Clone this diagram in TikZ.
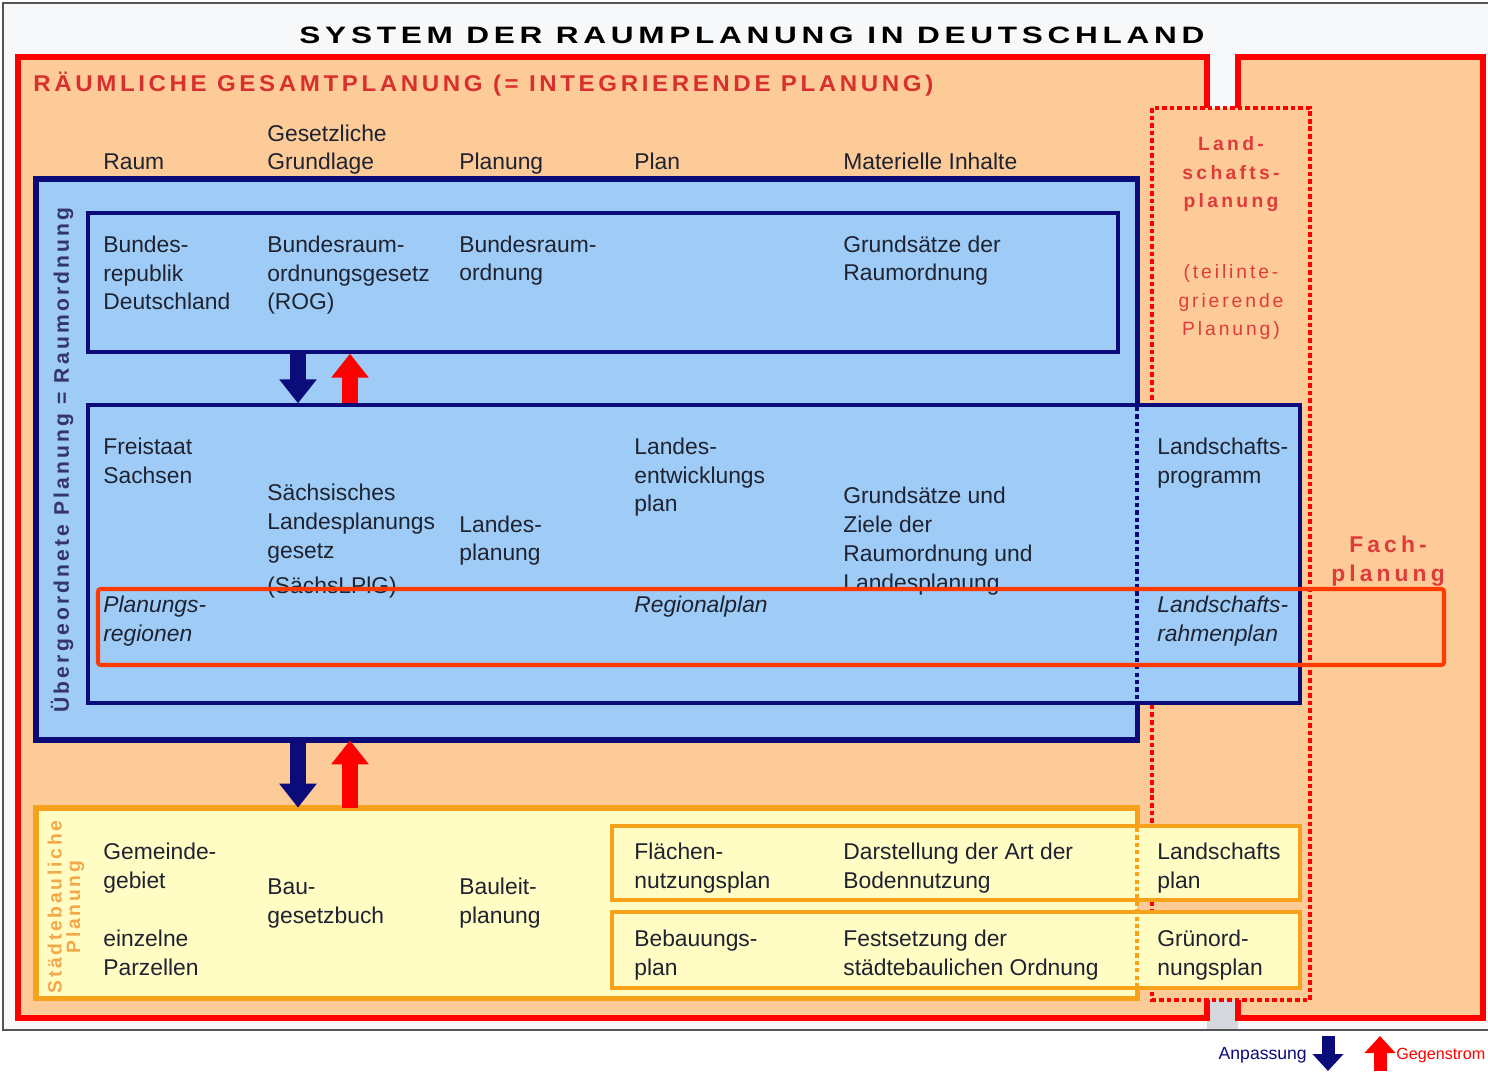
\documentclass[tikz,border=0pt]{standalone}
\usepackage{fontspec}
\setmainfont{Liberation Sans}
\usetikzlibrary{arrows.meta,fit}
\definecolor{peach}{HTML}{FDCB98}
\definecolor{redf}{HTML}{FF0000}
\definecolor{navy}{HTML}{0B0B7A}
\definecolor{lblue}{HTML}{9ECCF7}
\definecolor{lyellow}{HTML}{FFFCC4}
\definecolor{orng}{HTML}{F7A21B}
\definecolor{hl}{HTML}{FF3A00}
\definecolor{txt}{HTML}{1F2230}
\definecolor{redtxt}{HTML}{D8302F}
\definecolor{redtxtb}{HTML}{DE3C3C}
\definecolor{navytxt}{HTML}{35356A}
\definecolor{orngtxt}{HTML}{F2A94A}
\definecolor{bg}{HTML}{F7F8F9}
\definecolor{gapgray}{HTML}{D5D8DC}
\definecolor{framegray}{HTML}{555555}
\tikzset{
  lbl/.style={anchor=base west, inner sep=0, align=left, text=txt, font=\fontsize{13}{16.5}\selectfont},
  ilbl/.style={lbl, font=\fontsize{13}{16.5}\selectfont\itshape},
  redframe/.style={draw=redf, line width=3.4pt, line join=miter},
  reddot/.style={draw=redf, line width=2.7pt, dash pattern=on 2.6pt off 1.7pt},
  navydot/.style={draw=navy, line width=2.8pt, dash pattern=on 2.4pt off 1.8pt},
  orngdot/.style={draw=orng, line width=2.6pt, dash pattern=on 2.4pt off 1.8pt},
  bigblue/.style={inner sep=0, fill=lblue},
  innerblue/.style={inner sep=0, fill=lblue, draw=navy, line width=1.9pt},
  inneryellow/.style={inner sep=0, fill=lyellow, draw=orng, line width=1.9pt},
  downarrow/.style={draw=navy, line width=0.32cm, -{Triangle[width=0.72cm,length=0.48cm]}},
  uparrow/.style={draw=redf, line width=0.32cm, -{Triangle[width=0.72cm,length=0.48cm]}},
  legdown/.style={draw=navy, line width=0.26cm, -{Triangle[width=0.6cm,length=0.34cm]}},
  legup/.style={draw=redf, line width=0.26cm, -{Triangle[width=0.6cm,length=0.34cm]}},
}
\begin{document}
\begin{tikzpicture}[x=0.02cm,y=-0.02cm]
\useasboundingbox (0,0) rectangle (1488,1074);
\clip (0,0) rectangle (1488,1074);
\fill[white] (0,0) rectangle (1488,1074);
\draw[framegray, line width=1.2pt, fill=bg] (3,3) rectangle (1520,1030);
% peach area
\fill[peach] (18,57) rectangle (1483,1018);
\fill[bg] (1207,30) rectangle (1238,108);
\fill[gapgray] (1207,1000) rectangle (1238,1029);
% red dotted Landschaftsplanung
\draw[reddot] (1152,108) rectangle (1310,1000);
% red frames
\draw[redframe] (1207,108) -- (1207,57) -- (18,57) -- (18,1018) -- (1207,1018) -- (1207,1000);
\draw[redframe] (1238,108) -- (1238,57) -- (1483,57) -- (1483,1018) -- (1238,1018) -- (1238,1000);
% big navy box
\node[bigblue, fit={(36,179)(1137,740)}] (ueber) {};
\draw[navy, line width=2.85pt, line join=miter] (1137,405) -- (1137,179) -- (36,179) -- (36,740) -- (1137,740) -- (1137,703);
\node[innerblue, fit={(88,213)(1118,352)}] (bund) {};
\node[innerblue, fit={(88,405)(1300,703)}] (sachsen) {};
\draw[navydot] (1137,407) -- (1137,701);
% yellow box
\node[inner sep=0, fill=lyellow, fit={(36,808)(1137,998)}] (stadt) {};
\draw[orng, line width=2.85pt, line join=miter] (1137,828) -- (1137,808) -- (36,808) -- (36,998) -- (1137,998) -- (1137,988);
\node[inneryellow, fit={(612,826)(1300,900)}] (fnp) {};
\node[inneryellow, fit={(612,912)(1300,988)}] (bpl) {};
\draw[orngdot] (1137,828) -- (1137,988);
% arrows
\coordinate (ax) at (298,0);
\coordinate (bx) at (350,0);
\draw[downarrow] (bund.south -| ax) -- (sachsen.north -| ax);
\draw[uparrow] (sachsen.north -| bx) -- (bund.south -| bx);
\draw[downarrow] (ueber.south -| ax) -- (stadt.north -| ax);
\draw[uparrow] (stadt.north -| bx) -- (ueber.south -| bx);
% titles
\node[anchor=base, inner sep=0, xscale=1.33, text=black, font=\fontsize{13.5}{16}\selectfont\bfseries\addfontfeatures{LetterSpace=15}] (title) at (752,44) {SYSTEM DER RAUMPLANUNG IN DEUTSCHLAND};
\node[anchor=base west, inner sep=0, xscale=1.055, text=redtxt, font=\fontsize{13}{16}\selectfont\bfseries\addfontfeatures{LetterSpace=15}] (sub) at (33,92) {RÄUMLICHE GESAMTPLANUNG (= INTEGRIERENDE PLANUNG)};
% vertical labels
\node[rotate=90, inner sep=0, text=navytxt, font=\fontsize{12}{14}\selectfont\bfseries\addfontfeatures{LetterSpace=15}] (vueber) at (62,460) {Übergeordnete Planung = Raumordnung};
\node[rotate=90, inner sep=0, align=center, text=orngtxt, font=\fontsize{11}{10.5}\selectfont\bfseries\addfontfeatures{LetterSpace=14}] (vstadt) at (66,907) {Städtebauliche\\Planung};
% headers (base anchor = baseline of the last line)
\node[lbl] (hraum) at (103,170) {Raum};
\node[lbl] (hgrund) at (267,170) {Gesetzliche\\Grundlage};
\node[lbl] (hplanung) at (459,170) {Planung};
\node[lbl] (hplan) at (634,170) {Plan};
\node[lbl] (hinh) at (843,170) {Materielle Inhalte};
% Bund
\node[lbl] (t1) at (103,310) {Bundes-\\republik\\Deutschland};
\node[lbl] (t2) at (267,310) {Bundesraum-\\ordnungsgesetz\\(ROG)};
\node[lbl] (t3) at (459,281) {Bundesraum-\\ordnung};
\node[lbl] (t4) at (843,281) {Grundsätze der\\Raumordnung};
% Sachsen
\node[lbl] (s1) at (103,483) {Freistaat\\Sachsen};
\node[lbl] (s2) at (267,593) {Sächsisches\\Landesplanungs\\gesetz\\[3pt](SächsLPlG)};
\node[lbl] (s3) at (459,561) {Landes-\\planung};
\node[lbl] (s4) at (634,512) {Landes-\\entwicklungs\\plan};
\node[lbl] (s5) at (843,590) {Grundsätze und\\Ziele der\\Raumordnung und\\Landesplanung};
\node[lbl] (s6) at (1157,483) {Landschafts-\\programm};
\node[ilbl] (r1) at (103,641) {Planungs-\\regionen};
\node[ilbl] (r2) at (634,612) {Regionalplan};
\node[ilbl] (r3) at (1157,641) {Landschafts-\\rahmenplan};
% Stadt
\node[lbl] (y1) at (103,888) {Gemeinde-\\gebiet};
\node[lbl] (y2) at (103,975) {einzelne\\Parzellen};
\node[lbl] (y3) at (267,923) {Bau-\\gesetzbuch};
\node[lbl] (y4) at (459,923) {Bauleit-\\planung};
\node[lbl] (y5) at (634,888) {Flächen-\\nutzungsplan};
\node[lbl] (y6) at (843,888) {Darstellung der Art der\\Bodennutzung};
\node[lbl] (y7) at (1157,888) {Landschafts\\plan};
\node[lbl] (y8) at (634,975) {Bebauungs-\\plan};
\node[lbl] (y9) at (843,975) {Festsetzung der\\städtebaulichen Ordnung};
\node[lbl] (y10) at (1157,975) {Grünord-\\nungsplan};
% red labels
\node[anchor=base, inner sep=0, align=center, text=redtxtb, font=\fontsize{11}{16.5}\selectfont\bfseries\addfontfeatures{LetterSpace=17}] (lp1) at (1231,208) {Land-\\schafts-\\planung};
\node[anchor=base, inner sep=0, align=center, text=redtxtb, font=\fontsize{11}{16.5}\selectfont\addfontfeatures{LetterSpace=15}] (lp2) at (1231,336) {(teilinte-\\grierende\\Planung)};
\node[anchor=base, inner sep=0, align=center, text=redtxtb, font=\fontsize{13}{16.5}\selectfont\bfseries\addfontfeatures{LetterSpace=18}] (fach) at (1388,581) {Fach-\\planung};
% highlight
\draw[hl, line width=2.3pt, rounded corners=1.5pt] (98,589) rectangle (1444,665);
% legend
\node[anchor=base east, inner sep=0, text=navy, font=\fontsize{10}{12}\selectfont] (lanp) at (1307,1059) {Anpassung};
\node[anchor=base west, inner sep=0, text=redf, font=\fontsize{9.2}{11}\selectfont] (lgeg) at (1396,1059) {Gegenstrom};
\coordinate (la1) at (1328,1036);
\coordinate (la2) at (1328,1071);
\coordinate (lb1) at (1380,1071);
\coordinate (lb2) at (1380,1036);
\draw[legdown] (la1) -- (la2);
\draw[legup] (lb1) -- (lb2);
\end{tikzpicture}
\end{document}
